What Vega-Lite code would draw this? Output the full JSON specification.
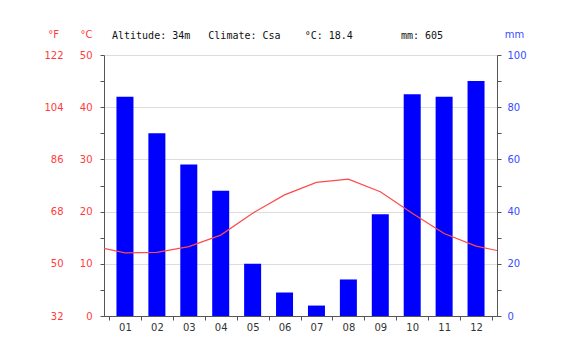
{
  "$schema": "https://vega.github.io/schema/vega-lite/v6.json",
  "autosize": "none",
  "width": 393,
  "height": 261,
  "padding": {"left": 104, "top": 55, "right": 83, "bottom": 36},
  "background": "white",
  "title": {
    "text": "Altitude: 34m\u00a0\u00a0\u00a0Climate: Csa\u00a0\u00a0\u00a0\u00a0°C: 18.4\u00a0\u00a0\u00a0\u00a0\u00a0\u00a0\u00a0\u00a0mm: 605",
    "font": "DejaVu Sans Mono",
    "fontSize": 10,
    "fontWeight": "normal",
    "color": "#111111",
    "anchor": "start",
    "frame": "group",
    "dx": 8,
    "offset": -12
  },
  "config": {
    "view": {"stroke": null},
    "axis": {"labelFont": "DejaVu Sans", "labelFontSize": 10, "titleFont": "DejaVu Sans", "titleFontSize": 10, "titleFontWeight": "normal", "domainColor": "#555555", "tickColor": "#555555"}
  },
  "datasets": {
    "precip": [
      {"month": 1, "mm": 84}, {"month": 2, "mm": 70}, {"month": 3, "mm": 58},
      {"month": 4, "mm": 48}, {"month": 5, "mm": 20}, {"month": 6, "mm": 9},
      {"month": 7, "mm": 4}, {"month": 8, "mm": 14}, {"month": 9, "mm": 39},
      {"month": 10, "mm": 85}, {"month": 11, "mm": 84}, {"month": 12, "mm": 90}
    ],
    "temp": [
      {"month": 0, "temp": 13.4},
      {"month": 1, "temp": 12.1}, {"month": 2, "temp": 12.2}, {"month": 3, "temp": 13.3},
      {"month": 4, "temp": 15.5}, {"month": 5, "temp": 19.7}, {"month": 6, "temp": 23.2},
      {"month": 7, "temp": 25.6}, {"month": 8, "temp": 26.2}, {"month": 9, "temp": 23.8},
      {"month": 10, "temp": 19.7}, {"month": 11, "temp": 15.8}, {"month": 12, "temp": 13.4},
      {"month": 13, "temp": 12.1}
    ]
  },
  "layer": [
    {
      "data": {"name": "temp"},
      "mark": {"type": "point", "opacity": 0},
      "encoding": {
        "x": {"field": "month", "type": "quantitative", "scale": {"domain": [0.5, 12.5], "nice": false, "zero": false}, "axis": null},
        "y": {
          "field": "temp", "type": "quantitative",
          "scale": {"domain": [0, 50], "nice": false},
          "axis": {
            "orient": "left", "offset": 37, "values": [0, 10, 20, 30, 40, 50],
            "labelExpr": "format(datum.value * 9 / 5 + 32, 'd')",
            "labelColor": "#ff3b3b", "domain": false, "ticks": false, "labelPadding": 4,
            "grid": true, "gridColor": "#dddddd",
            "title": "°F", "titleColor": "#ff3b3b", "titleAngle": 0, "titleX": -14, "titleY": -21, "titleAlign": "center", "titleBaseline": "middle"
          }
        }
      }
    },
    {
      "data": {"name": "precip"},
      "mark": {"type": "bar", "size": 17, "color": "#0000ff"},
      "encoding": {
        "x": {
          "field": "month", "type": "quantitative",
          "scale": {"domain": [0.5, 12.5], "nice": false, "zero": false},
          "axis": {"orient": "bottom", "values": [1,2,3,4,5,6,7,8,9,10,11,12], "labelExpr": "datum.value < 10 ? '0' + datum.value : '' + datum.value", "ticks": false, "grid": false, "labelColor": "#333333", "labelPadding": 6, "title": null}
        },
        "y": {
          "field": "mm", "type": "quantitative",
          "scale": {"domain": [0, 100], "nice": false},
          "axis": {
            "orient": "right", "values": [0,10,20,30,40,50,60,70,80,90,100],
            "labelExpr": "datum.value % 20 == 0 ? '' + datum.value : ''",
            "labelColor": "#3a4cff", "tickSize": 4, "labelPadding": 6, "grid": false,
            "title": "mm", "titleColor": "#3a4cff", "titleAngle": 0, "titleX": 17, "titleY": -21, "titleAlign": "center", "titleBaseline": "middle"
          }
        }
      }
    },
    {
      "data": {"name": "temp"},
      "mark": {"type": "line", "color": "#ff4a4a", "strokeWidth": 1.2, "clip": true},
      "encoding": {
        "x": {
          "field": "month", "type": "quantitative",
          "scale": {"domain": [0.5, 12.5], "nice": false, "zero": false},
          "axis": {"orient": "bottom", "values": [0.5,1.5,2.5,3.5,4.5,5.5,6.5,7.5,8.5,9.5,10.5,11.5,12.5], "labels": false, "ticks": true, "tickSize": 4, "domain": true, "grid": false, "title": null}
        },
        "y": {
          "field": "temp", "type": "quantitative",
          "scale": {"domain": [0, 50], "nice": false},
          "axis": {
            "orient": "left", "values": [0,5,10,15,20,25,30,35,40,45,50],
            "labelExpr": "datum.value % 10 == 0 ? '' + datum.value : ''",
            "labelColor": "#ff3b3b", "tickSize": 4, "labelPadding": 8, "grid": false,
            "title": "°C", "titleColor": "#ff3b3b", "titleAngle": 0, "titleX": -18, "titleY": -21, "titleAlign": "center", "titleBaseline": "middle"
          }
        }
      }
    }
  ],
  "resolve": {"scale": {"y": "independent"}, "axis": {"y": "independent", "x": "independent"}}
}
